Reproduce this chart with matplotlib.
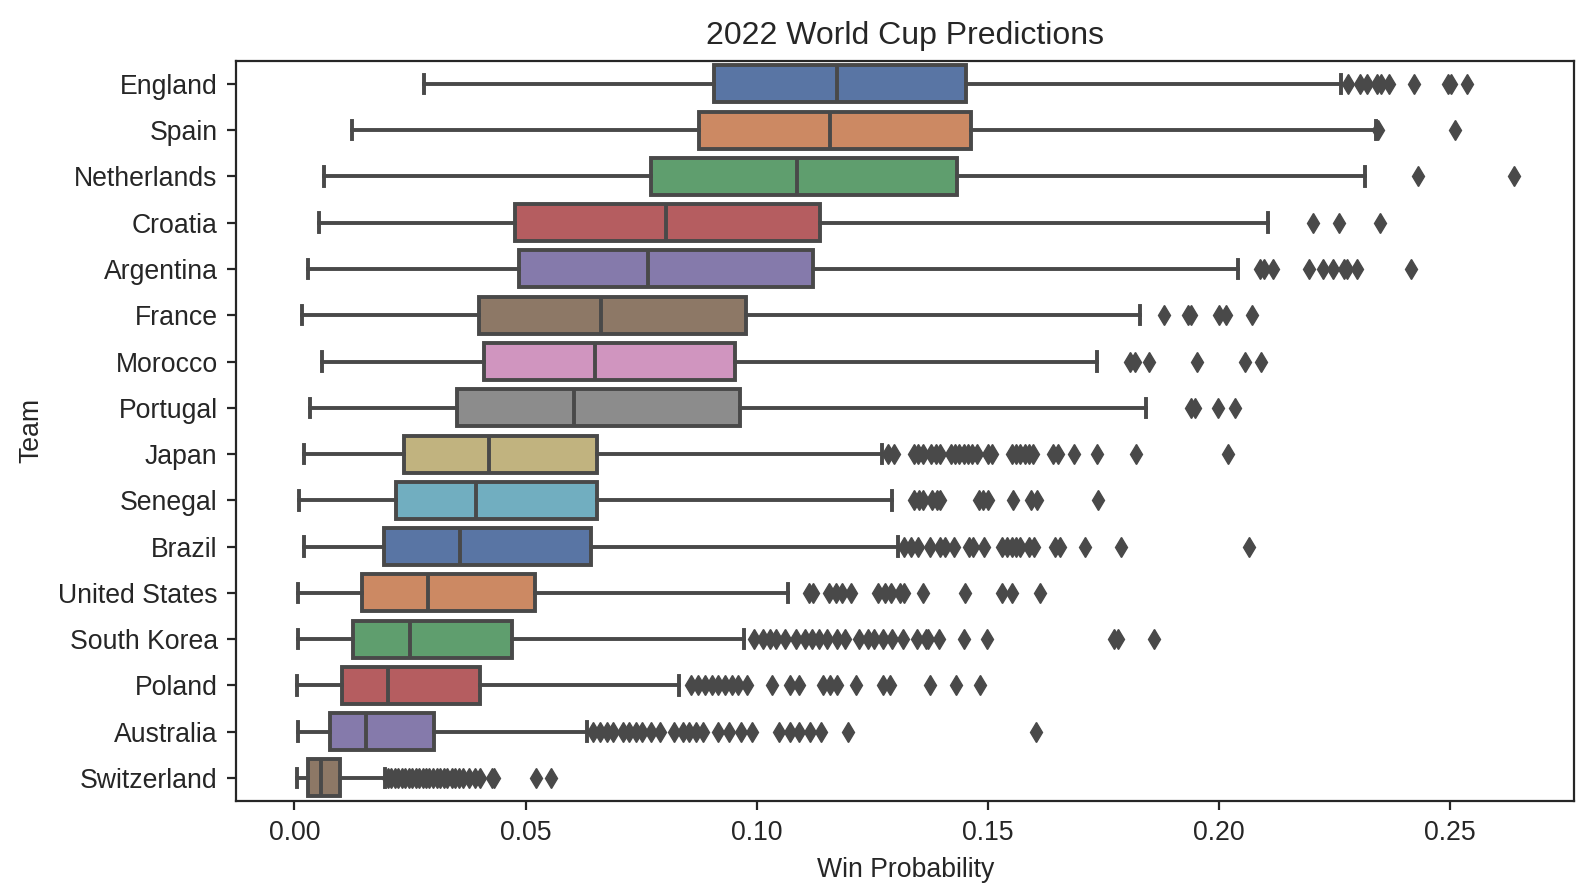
import colorsys
import numpy as np
import matplotlib.pyplot as plt
import seaborn as sns

# Teams, ordered top to bottom
teams = ["England", "Spain", "Netherlands", "Croatia", "Argentina", "France",
         "Morocco", "Portugal", "Japan", "Senegal", "Brazil", "United States",
         "South Korea", "Poland", "Australia", "Switzerland"]

# Box statistics (win probability)
whislo = [0.0281, 0.0124, 0.0065, 0.0053, 0.0030, 0.0017, 0.0059, 0.0033,
          0.0021, 0.0009, 0.0021, 0.0008, 0.0008, 0.0006, 0.0008, 0.0006]
q1 = [0.0908, 0.0876, 0.0772, 0.0477, 0.0485, 0.0399, 0.0411, 0.0352,
      0.0237, 0.0220, 0.0194, 0.0147, 0.0126, 0.0102, 0.0077, 0.0030]
med = [0.1174, 0.1159, 0.1087, 0.0803, 0.0765, 0.0663, 0.0650, 0.0604,
       0.0421, 0.0392, 0.0358, 0.0288, 0.0250, 0.0203, 0.0155, 0.0057]
q3 = [0.1453, 0.1464, 0.1433, 0.1138, 0.1122, 0.0978, 0.0954, 0.0965,
      0.0655, 0.0655, 0.0642, 0.0521, 0.0470, 0.0401, 0.0303, 0.0099]
whishi = [0.2265, 0.2341, 0.2317, 0.2107, 0.2041, 0.1830, 0.1737, 0.1843,
          0.1272, 0.1293, 0.1305, 0.1067, 0.0972, 0.0833, 0.0632, 0.0196]

# Outliers per team
fliers = [
    [0.2280, 0.2305, 0.2321, 0.2342, 0.2350, 0.2368, 0.2422, 0.2497, 0.2502, 0.2537],
    [0.2344, 0.2511],
    [0.2432, 0.2638],
    [0.2204, 0.2260, 0.2348],
    [0.2089, 0.2097, 0.2117, 0.2195, 0.2226, 0.2247, 0.2270, 0.2277, 0.2299, 0.2416],
    [0.1881, 0.1933, 0.1940, 0.2000, 0.2016, 0.2072],
    [0.1809, 0.1819, 0.1849, 0.1953, 0.2056, 0.2091],
    [0.1940, 0.1948, 0.1999, 0.2035],
    [0.1284, 0.1298, 0.1341, 0.1350, 0.1360, 0.1378, 0.1388, 0.1397, 0.1420, 0.1430,
     0.1439, 0.1448, 0.1458, 0.1467, 0.1476, 0.1500, 0.1509, 0.1553, 0.1562, 0.1571,
     0.1581, 0.1590, 0.1599, 0.1642, 0.1653, 0.1686, 0.1737, 0.1821, 0.2020],
    [0.1341, 0.1352, 0.1361, 0.1380, 0.1390, 0.1397, 0.1481, 0.1490, 0.1500, 0.1555,
     0.1593, 0.1607, 0.1739],
    [0.1320, 0.1335, 0.1349, 0.1376, 0.1397, 0.1407, 0.1428, 0.1460, 0.1469, 0.1492,
     0.1532, 0.1542, 0.1552, 0.1561, 0.1571, 0.1590, 0.1600, 0.1646, 0.1656, 0.1711,
     0.1789, 0.2065],
    [0.1113, 0.1122, 0.1156, 0.1171, 0.1185, 0.1204, 0.1262, 0.1277, 0.1291, 0.1311,
     0.1320, 0.1359, 0.1450, 0.1532, 0.1552, 0.1614],
    [0.0994, 0.1014, 0.1028, 0.1043, 0.1062, 0.1086, 0.1105, 0.1120, 0.1134, 0.1153,
     0.1173, 0.1192, 0.1221, 0.1240, 0.1255, 0.1274, 0.1293, 0.1317, 0.1346, 0.1366,
     0.1370, 0.1394, 0.1448, 0.1499, 0.1774, 0.1783, 0.1860],
    [0.0859, 0.0874, 0.0888, 0.0903, 0.0917, 0.0932, 0.0946, 0.0960, 0.0980, 0.1033,
     0.1072, 0.1091, 0.1144, 0.1158, 0.1173, 0.1216, 0.1274, 0.1288, 0.1375, 0.1432,
     0.1484],
    [0.0647, 0.0661, 0.0676, 0.0690, 0.0710, 0.0724, 0.0739, 0.0753, 0.0772, 0.0792,
     0.0821, 0.0840, 0.0854, 0.0869, 0.0883, 0.0917, 0.0941, 0.0966, 0.0990, 0.1048,
     0.1072, 0.1091, 0.1115, 0.1139, 0.1197, 0.1605],
    [0.0203, 0.0210, 0.0218, 0.0225, 0.0232, 0.0240, 0.0247, 0.0255, 0.0262, 0.0270,
     0.0278, 0.0285, 0.0292, 0.0300, 0.0308, 0.0316, 0.0324, 0.0331, 0.0340, 0.0348,
     0.0356, 0.0365, 0.0377, 0.0390, 0.0401, 0.0428, 0.0432, 0.0522, 0.0555],
]

plt.rcParams['font.family'] = ['Liberation Sans', 'DejaVu Sans']
text_color = '#262626'

# seaborn "deep" palette, desaturated like seaborn's boxplot does
deep = sns.color_palette("deep")
colors = [sns.desaturate(deep[i % len(deep)], 0.75) for i in range(len(teams))]
lum = min(colorsys.rgb_to_hls(*c)[1] for c in deep) * 0.6
gray = (lum, lum, lum)

stats = []
for i, team in enumerate(teams):
    stats.append({"label": team, "whislo": whislo[i], "q1": q1[i], "med": med[i],
                  "q3": q3[i], "whishi": whishi[i], "fliers": fliers[i]})

fig = plt.figure(figsize=(15.76, 8.94), dpi=100)
ax = fig.add_axes([0.150, 0.104, 0.849, 0.828])

lw = 2.8
bp = ax.bxp(stats, positions=np.arange(len(teams)), widths=0.8,
            orientation='horizontal', patch_artist=True,
            boxprops=dict(edgecolor=gray, linewidth=lw),
            medianprops=dict(color=gray, linewidth=lw),
            whiskerprops=dict(color=gray, linewidth=lw),
            capprops=dict(color=gray, linewidth=lw),
            flierprops=dict(marker='d', markersize=10.5, markerfacecolor=gray,
                            markeredgecolor=gray, linestyle='none'))
for patch, c in zip(bp['boxes'], colors):
    patch.set_facecolor(c)

ax.set_ylim(len(teams) - 0.5, -0.5)
ax.set_xticks([0.0, 0.05, 0.10, 0.15, 0.20, 0.25])
ax.set_xticklabels(["0.00", "0.05", "0.10", "0.15", "0.20", "0.25"])

ax.set_title("2022 World Cup Predictions", fontsize=23, color=text_color, pad=12)
ax.set_xlabel("Win Probability", fontsize=19.2, color=text_color, labelpad=8)
ax.set_ylabel("Team", fontsize=19.2, color=text_color, labelpad=10)
ax.tick_params(labelsize=19.2, colors=text_color, length=6.5, width=1.6, pad=7)
for s in ax.spines.values():
    s.set_linewidth(1.6)
    s.set_color(text_color)

plt.savefig("out.png", dpi=100)
